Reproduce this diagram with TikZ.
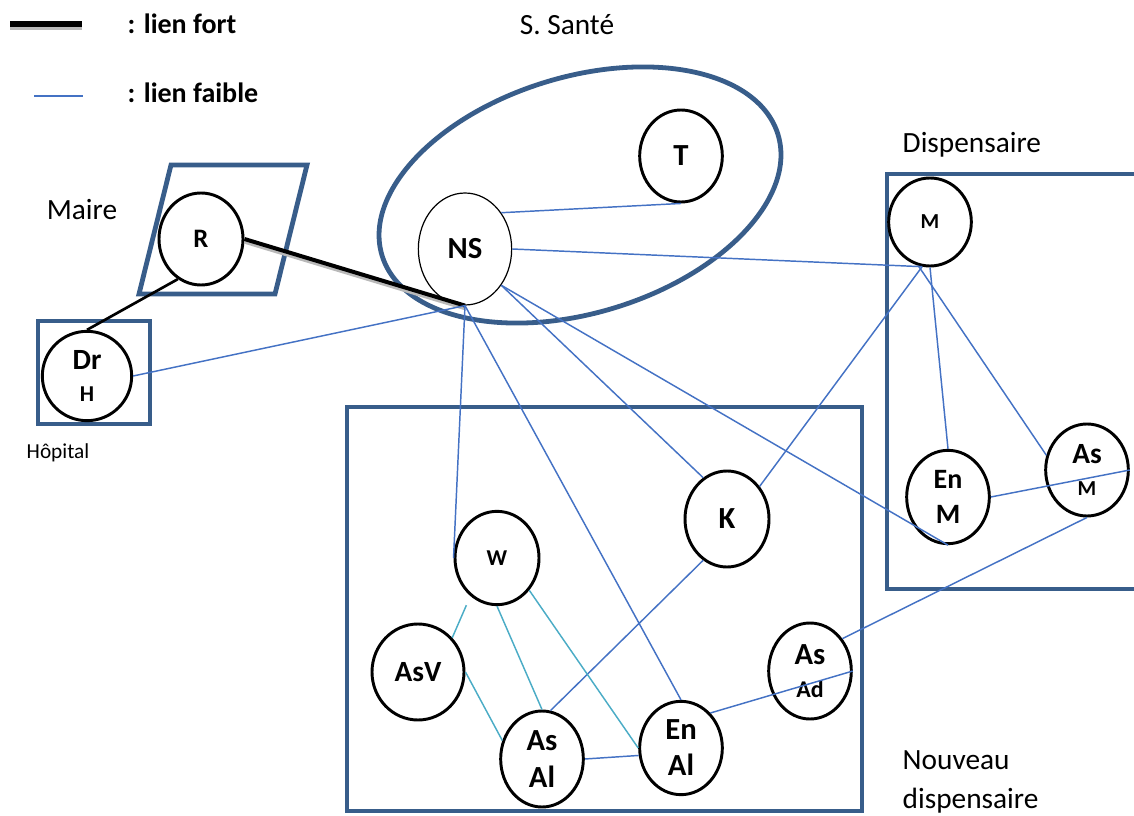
\documentclass[tikz,border=0pt]{standalone}
\usepackage{fontspec}
\setmainfont{Carlito}
\usetikzlibrary{shapes.geometric}
\definecolor{cadre}{HTML}{385D8A}
\definecolor{lienbleu}{HTML}{4472C4}
\definecolor{lienvert}{HTML}{4BACC6}

\begin{document}
\begin{tikzpicture}[x=0.75pt, y=-0.75pt,
	acteur/.style={ellipse, draw, line width=2.2pt, inner sep=0pt, align=center},
	cadre/.style={draw=cadre, line width=3.6pt},
	faible/.style={draw=lienbleu, line width=1.1pt},
	faiblev/.style={draw=lienvert, line width=1.1pt},
	fort/.style={line width=3pt}]
	\useasboundingbox (0,0) rectangle (1134,816);

	% legende
	\draw[line width=3pt, gray!55] (10,28) -- (82,28);
	\draw[line width=4.5pt] (10,24) -- (82,24);
	\draw[faible] (34,96) -- (83,96);
	\draw (123,24) node[anchor=west, font=\bfseries\fontsize{21}{25}\selectfont](lfort) {: lien fort};
	\draw (123,93) node[anchor=west, font=\bfseries\fontsize{21}{25}\selectfont](lfaible) {: lien faible};

	% groupes
	\draw[cadre, rotate around={17:(580,195)}] (580,195) ellipse [x radius=207, y radius=118];
	\draw[cadre] (171,165) -- (307,165) -- (275,294) -- (139,294) -- cycle;
	\draw[cadre] (38,321) rectangle (150,424);
	\draw[cadre] (887,174) rectangle (1145,589);
	\draw[cadre] (347,407) rectangle (862,811);

	\draw (567,25) node[font=\fontsize{22}{26}\selectfont](sante) {S. Santé};
	\draw (82,210) node[font=\fontsize{22}{26}\selectfont](maire) {Maire};
	\draw (22,453) node[anchor=west, font=\fontsize{16}{19}\selectfont](hopital) {Hôpital};
	\draw (898,145) node[anchor=west, font=\fontsize{22}{26}\selectfont](disp) {Dispensaire};
	\draw (898,782) node[anchor=west, align=left, font=\fontsize{22}{29}\selectfont](ndisp) {Nouveau\\dispensaire};

	% acteurs
	\draw (681,156) node[acteur, minimum width=62pt, minimum height=69pt, font=\bfseries\fontsize{23}{28}\selectfont](T) {T};
	\draw (465,249) node[acteur, line width=0.9pt, minimum width=70pt, minimum height=84pt, font=\bfseries\fontsize{23}{28}\selectfont](NS) {NS};
	\draw (201,239) node[acteur, minimum width=63pt, minimum height=69pt, font=\bfseries\fontsize{20}{24}\selectfont](R) {R};
	\draw (87,376) node[acteur, minimum width=67pt, minimum height=67pt, font=\bfseries\fontsize{22}{24}\selectfont](DrH) {Dr\\{\fontsize{17}{24}\selectfont H}};
	\draw (930,222) node[acteur, minimum width=62pt, minimum height=66pt, font=\bfseries\fontsize{16}{20}\selectfont](M) {M};
	\draw (948,497) node[acteur, minimum width=62pt, minimum height=70pt, font=\bfseries\fontsize{21}{26}\selectfont](EnM) {En\\M};
	\draw (1087,470) node[acteur, minimum width=62pt, minimum height=69pt, font=\bfseries\fontsize{22}{24}\selectfont](AsM) {As\\{\fontsize{16}{24}\selectfont M}};
	\draw (497,558) node[acteur, minimum width=63pt, minimum height=70pt, font=\bfseries\fontsize{17}{20}\selectfont](W) {W};
	\draw (418,672) node[acteur, minimum width=69pt, minimum height=72pt, font=\bfseries\fontsize{22}{26}\selectfont](AsV) {AsV};
	\draw (542,759) node[acteur, minimum width=62pt, minimum height=72pt, font=\bfseries\fontsize{23}{28}\selectfont](AsAl) {As\\Al};
	\draw (681,748) node[acteur, minimum width=62pt, minimum height=70pt, font=\bfseries\fontsize{23}{27}\selectfont](EnAl) {En\\Al};
	\draw (727,519) node[acteur, minimum width=63pt, minimum height=72pt, font=\bfseries\fontsize{23}{28}\selectfont](K) {K};
	\draw (810,671) node[acteur, minimum width=62pt, minimum height=72pt, font=\bfseries\fontsize{23}{25}\selectfont](AsAd) {As\\{\fontsize{18}{25}\selectfont Ad}};

	% liens forts
	\draw[fort, gray!55] ([yshift=-2pt]R.east) -- ([yshift=-2pt]NS.south);
	\draw[fort] (R.east) -- (NS.south);
	\draw[line width=2pt] (R.-120) -- (DrH.north);

	% liens faibles
	\draw[faible] (DrH.east) -- (NS.south);
	\draw[faible] (NS.45) -- (T.south);
	\draw[faible] (NS.east) -- (M.-100);
	\draw[faible] (NS.south) -- (W.west);
	\draw[faible] (NS.south) -- (EnAl.north);
	\draw[faible] (NS.-45) -- (K.120);
	\draw[faible] (NS.-45) -- (EnM.south);
	\draw[faible] (M.-100) -- (K.45);
	\draw[faible] (M.south) -- (EnM.north);
	\draw[faible] (M.-105) -- (AsM.160);
	\draw[faible] (EnM.east) -- (AsM.east);
	\draw[faible] (AsM.south) -- (AsAd.45);
	\draw[faible] (EnAl.50) -- (AsAd.east);
	\draw[faible] (AsAl.east) -- (EnAl.-170);
	\draw[faible] (K.-120) -- (AsAl.80);
	\draw[faiblev, shorten >=7.5pt] (AsV.45) -- (W.-125);
	\draw[faiblev] (W.south) -- (AsAl.north);
	\draw[faiblev] (W.-45) -- (EnAl.west);
	\draw[faiblev] (AsV.east) -- (AsAl.155);
\end{tikzpicture}
\end{document}
